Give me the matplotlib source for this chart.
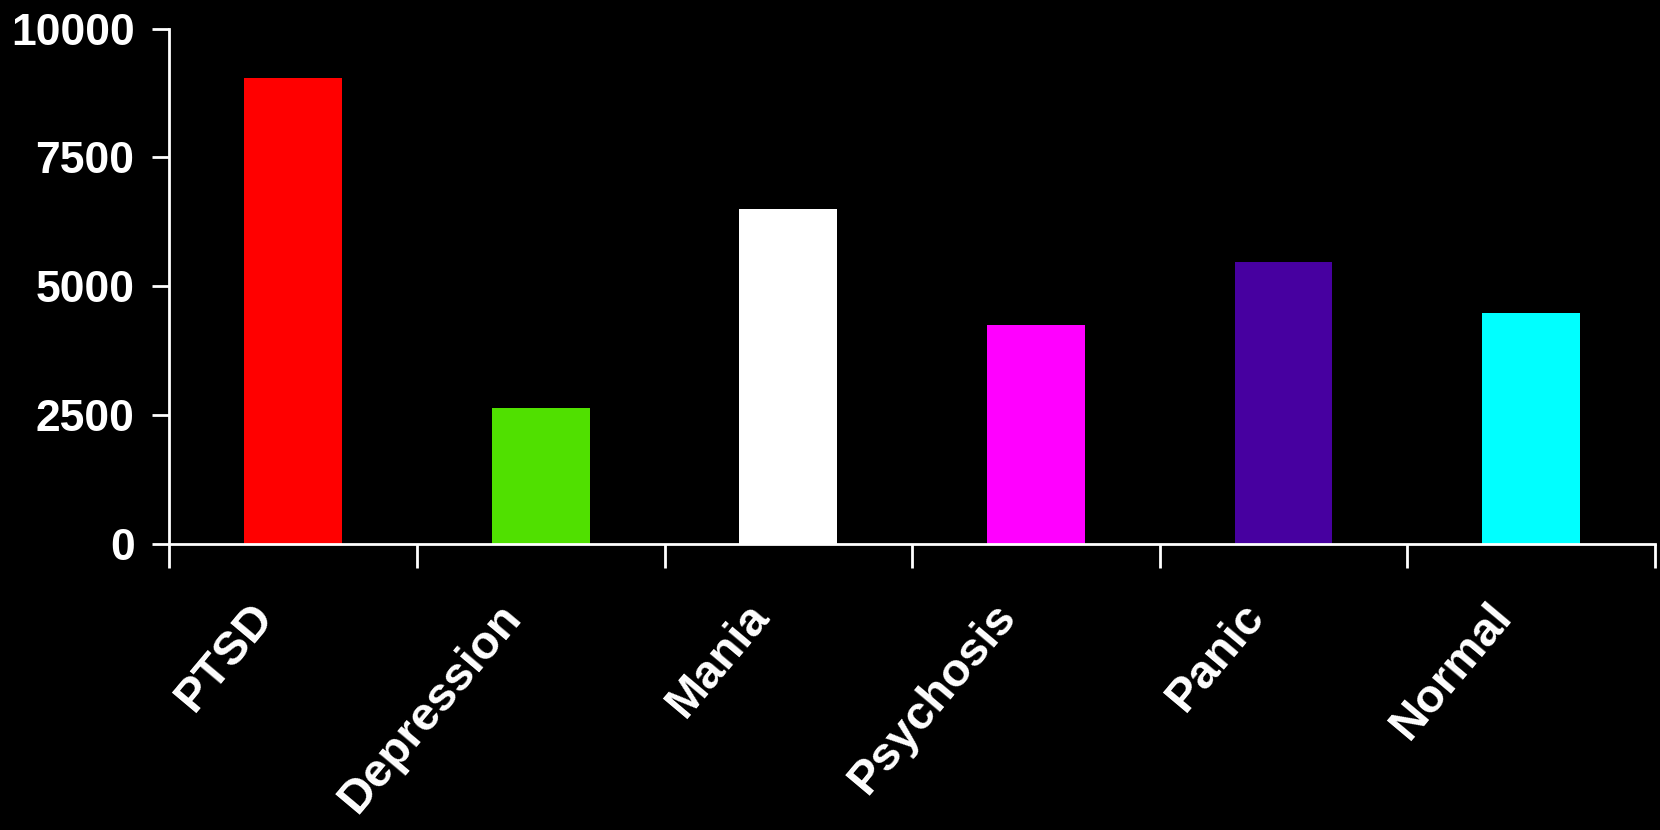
import matplotlib.pyplot as plt
import matplotlib.transforms as mtransforms
import numpy as np

categories = ["PTSD", "Depression", "Mania", "Psychosis", "Panic", "Normal"]
values = [9050, 2640, 6500, 4250, 5480, 4480]
bar_colors = ["#ff0000", "#50e000", "#ffffff", "#ff00ff", "#4700a0", "#00ffff"]
y_ticks = [0, 2500, 5000, 7500, 10000]

plt.rcParams['font.family'] = ['Liberation Sans', 'DejaVu Sans']

fig = plt.figure(facecolor='black', figsize=(16.6, 8.3), dpi=100)
ax = fig.add_axes([0.102, 0.3446, 0.895, 0.621])
ax.set_facecolor('black')

x = np.arange(len(categories))
ax.bar(x, values, width=0.395, color=bar_colors)

ax.set_xlim(-0.5, len(categories) - 0.5)
ax.set_ylim(0, 10000)
ax.set_yticks(y_ticks)
ax.set_yticklabels([str(v) for v in y_ticks], fontsize=32, fontweight='bold', color='white')

# category boundaries get the tick marks, centres get the labels
ax.set_xticks(x)
ax.set_xticklabels(categories, fontsize=34, fontweight='bold', color='white',
                   rotation=50, ha='right', va='top', rotation_mode='anchor')
ax.set_xticks(np.arange(-0.5, len(categories)), minor=True)
ax.tick_params(axis='x', which='major', length=0, pad=28)
ax.tick_params(axis='x', which='minor', length=17, width=2, color='white', direction='out')
ax.tick_params(axis='y', length=12, width=2, color='white', direction='out', pad=13)

# nudge the slanted labels left/down (after tick_params, which resets transforms)
shift = mtransforms.ScaledTranslation(-0.44, -0.12, fig.dpi_scale_trans)
for lbl in ax.get_xticklabels():
    lbl.set_transform(lbl.get_transform() + shift)

for side in ['top', 'right']:
    ax.spines[side].set_visible(False)
for side in ['left', 'bottom']:
    ax.spines[side].set_color('white')
    ax.spines[side].set_linewidth(2)

plt.savefig('out.png', facecolor='black')
